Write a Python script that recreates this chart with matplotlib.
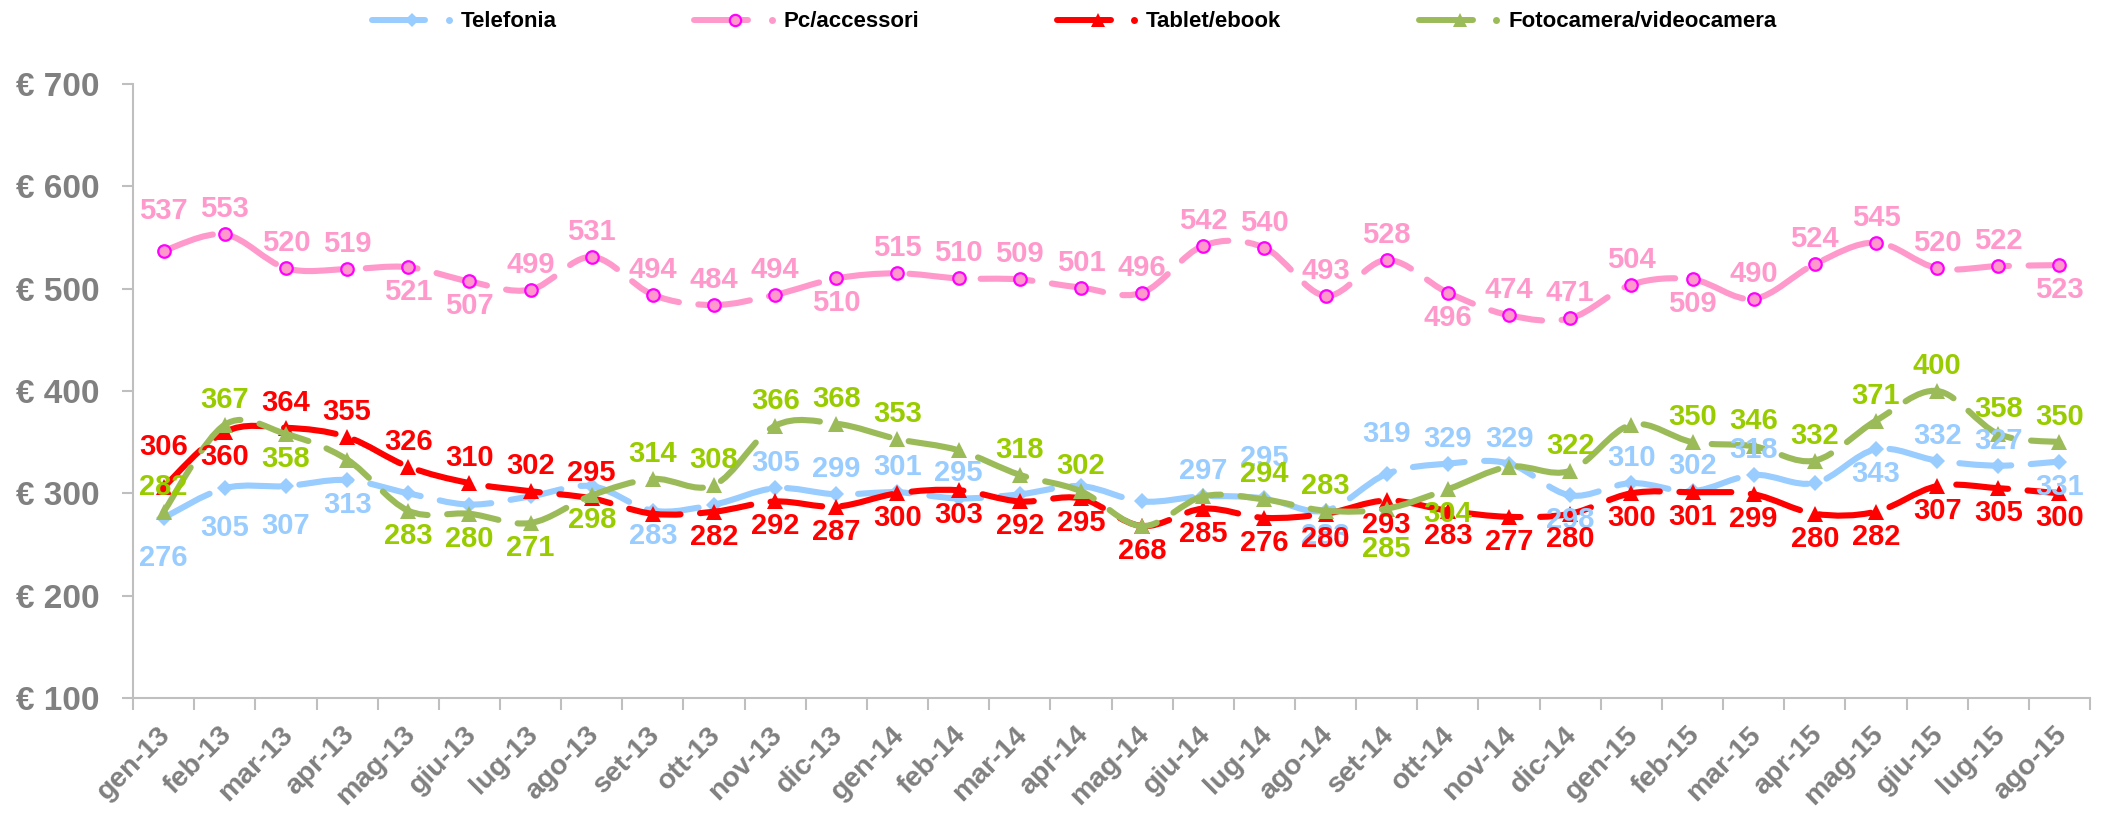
import matplotlib
matplotlib.use("Agg")
import matplotlib.pyplot as plt
from matplotlib.path import Path
from matplotlib.patches import PathPatch
from matplotlib.lines import Line2D
from matplotlib.legend_handler import HandlerBase
from matplotlib.transforms import ScaledTranslation
import numpy as np

plt.rcParams['font.family'] = ['Liberation Sans', 'DejaVu Sans']
plt.rcParams['font.weight'] = 'bold'

months = ['gen-13', 'feb-13', 'mar-13', 'apr-13', 'mag-13', 'giu-13', 'lug-13', 'ago-13',
          'set-13', 'ott-13', 'nov-13', 'dic-13', 'gen-14', 'feb-14', 'mar-14', 'apr-14',
          'mag-14', 'giu-14', 'lug-14', 'ago-14', 'set-14', 'ott-14', 'nov-14', 'dic-14',
          'gen-15', 'feb-15', 'mar-15', 'apr-15', 'mag-15', 'giu-15', 'lug-15', 'ago-15']

telefonia = [276, 305, 307, 313, 300, 289, 297, 307, 283, 289, 305, 299, 301, 295, 299, 307,
             292, 297, 295, 283, 319, 329, 329, 298, 310, 302, 318, 310, 343, 332, 327, 331]
pc_accessori = [537, 553, 520, 519, 521, 507, 499, 531, 494, 484, 494, 510, 515, 510, 509, 501,
                496, 542, 540, 493, 528, 496, 474, 471, 504, 509, 490, 524, 545, 520, 522, 523]
tablet = [306, 360, 364, 355, 326, 310, 302, 295, 280, 282, 292, 287, 300, 303, 292, 295,
          268, 285, 276, 280, 293, 283, 277, 280, 300, 301, 299, 280, 282, 307, 305, 300]
fotocamera = [282, 367, 358, 333, 283, 280, 271, 298, 314, 308, 366, 368, 353, 342, 318, 302,
              268, 297, 294, 283, 285, 304, 326, 322, 367, 350, 346, 332, 371, 400, 358, 350]

series_names = ['Telefonia', 'Pc/accessori', 'Tablet/ebook', 'Fotocamera/videocamera']

# label placement (a = above, b = below, A/B = further, '' = no label)
tel_pos = ['B', 'B', 'B', 'b', '', '', '', '', 'b', '', 'a', 'a', 'a', 'a', '', '',
           '', 'a', 'A', 'b', 'A', 'a', 'a', 'b', 'a', 'a', 'a', '', 'b', 'a', 'a', 'b']
pc_pos = ['A', 'a', 'a', 'a', 'b', 'b', 'a', 'a', 'a', 'a', 'a', 'b', 'a', 'a', 'a', 'a',
          'a', 'a', 'a', 'a', 'a', 'b', 'a', 'a', 'a', 'b', 'a', 'a', 'a', 'a', 'a', 'b']
tab_pos = ['A', 'b', 'a', 'a', 'a', 'a', 'a', 'a', '', 'b', 'b', 'b', 'b', 'b', 'b', 'b',
           'b', 'b', 'b', 'b', 'b', 'b', 'b', 'b', 'b', 'b', 'b', 'b', 'b', 'b', 'b', 'b']
foto_pos = ['a', 'a', 'b', '', 'b', 'b', 'b', 'b', 'a', 'a', 'a', 'a', 'a', '', 'a', 'a',
            '', '', 'a', 'a', 'B', 'b', '', 'a', '', 'a', 'a', 'a', 'a', 'a', 'a', 'a']

styles = [
    dict(color='#99CCFF', label_color='#99CCFF', marker='D', ms=8, mfc='#99CCFF', mec='#99CCFF', mew=0),
    dict(color='#FF99CC', label_color='#FF99CC', marker='o', ms=9, mfc='#FF99CC', mec='#FF00FF', mew=1.6),
    dict(color='#FF0000', label_color='#FF0000', marker='^', ms=11, mfc='#FF0000', mec='#FF0000', mew=0),
    dict(color='#9BBB59', label_color='#99CC00', marker='^', ms=11, mfc='#9BBB59', mec='#9BBB59', mew=0),
]
offsets = {'a': 18, 'A': 29, 'b': -18, 'B': -29}

fig = plt.figure(figsize=(21.02, 8.13), dpi=100)
ax = fig.add_axes([0.0633, 0.1415, 0.9310, 0.7552])

x = np.arange(len(months))


def smooth_path(xs, ys):
    pts = np.column_stack([xs, ys]).astype(float)
    n = len(pts)
    verts = [pts[0]]
    codes = [Path.MOVETO]
    for i in range(n - 1):
        p0 = pts[i - 1] if i > 0 else pts[i]
        p1 = pts[i]
        p2 = pts[i + 1]
        p3 = pts[i + 2] if i + 2 < n else pts[i + 1]
        c1 = p1 + (p2 - p0) / 6.0
        c2 = p2 - (p3 - p1) / 6.0
        verts += [c1, c2, p2]
        codes += [Path.CURVE4] * 3
    return Path(verts, codes)


all_series = [telefonia, pc_accessori, tablet, fotocamera]
all_pos = [tel_pos, pc_pos, tab_pos, foto_pos]
handles = []
for k, (vals, st) in enumerate(zip(all_series, styles)):
    patch = PathPatch(smooth_path(x, vals), fill=False, edgecolor=st['color'], lw=4.4,
                      linestyle=(0, (8.5, 3.2)), capstyle='round', joinstyle='round', zorder=2 + k)
    ax.add_patch(patch)
    ax.plot(x, vals, linestyle='none', marker=st['marker'], ms=st['ms'], mfc=st['mfc'],
            mec=st['mec'], mew=st['mew'], zorder=2.5 + k)
    h = Line2D([], [], color=st['color'], lw=4.3, marker=st['marker'], ms=st['ms'] * 0.9,
               mfc=st['mfc'], mec=st['mec'], mew=st['mew'])
    handles.append(h)

for vals, pos, st in zip(all_series, all_pos, styles):
    for xi, v, p in zip(x, vals, pos):
        if not p:
            continue
        ax.annotate(str(v), (xi, v), xytext=(0, offsets[p]), textcoords='offset points',
                    ha='center', va='center', fontsize=21, fontweight='bold',
                    color=st['label_color'], zorder=10)

ax.set_xlim(-0.5, len(months) - 0.5)
ax.set_ylim(100, 700)
ax.set_yticks(np.arange(100, 701, 100))
ax.set_yticklabels([f'€ {v}' for v in range(100, 701, 100)])
ax.set_xticks(x)
ax.set_xticklabels(months, rotation=45, ha='right', rotation_mode='anchor')
ax.set_xticks(np.arange(-0.5, len(months)), minor=True)
ax.tick_params(axis='x', which='major', length=0, pad=17, labelsize=20.5, labelcolor='#808080')
ax.tick_params(axis='x', which='minor', length=8.5, width=1.5, color='#BFBFBF', direction='out')
ax.tick_params(axis='y', length=8, width=1.5, color='#BFBFBF', pad=16, labelsize=24,
               labelcolor='#808080')
shift = ScaledTranslation(-6 / 100, 0, fig.dpi_scale_trans)
for lab in ax.get_xticklabels():
    lab.set_fontweight('bold')
    lab.set_transform(lab.get_transform() + shift)
for lab in ax.get_yticklabels():
    lab.set_fontweight('bold')
for s in ['top', 'right']:
    ax.spines[s].set_visible(False)
for s in ['left', 'bottom']:
    ax.spines[s].set_color('#BFBFBF')
    ax.spines[s].set_linewidth(1.5)


class LineDotHandler(HandlerBase):
    def create_artists(self, legend, orig_handle, xdescent, ydescent, width, height,
                       fontsize, trans):
        y = height / 2 - ydescent
        x0 = -xdescent
        lw_frac = 0.66
        line = Line2D([x0, x0 + width * lw_frac], [y, y], color=orig_handle.get_color(),
                      lw=orig_handle.get_linewidth(), solid_capstyle='round')
        mk = Line2D([x0 + width * lw_frac * 0.76], [y], linestyle='none',
                    marker=orig_handle.get_marker(), ms=orig_handle.get_markersize(),
                    mfc=orig_handle.get_markerfacecolor(), mec=orig_handle.get_markeredgecolor(),
                    mew=orig_handle.get_markeredgewidth())
        dot = Line2D([x0 + width * 0.95], [y], linestyle='none', marker='o', ms=5,
                     mfc=orig_handle.get_color(), mec='none')
        for a in (line, mk, dot):
            a.set_transform(trans)
        return [line, mk, dot]


leg = fig.legend(handles, series_names, loc='center', bbox_to_anchor=(0.511, 0.973),
                 ncol=4, frameon=False, fontsize=16, handlelength=3.65, handletextpad=0.36,
                 columnspacing=6.2, handler_map={Line2D: LineDotHandler()})
for t in leg.get_texts():
    t.set_fontweight('bold')
    t.set_color('black')

fig.savefig('out.png', dpi=100)
